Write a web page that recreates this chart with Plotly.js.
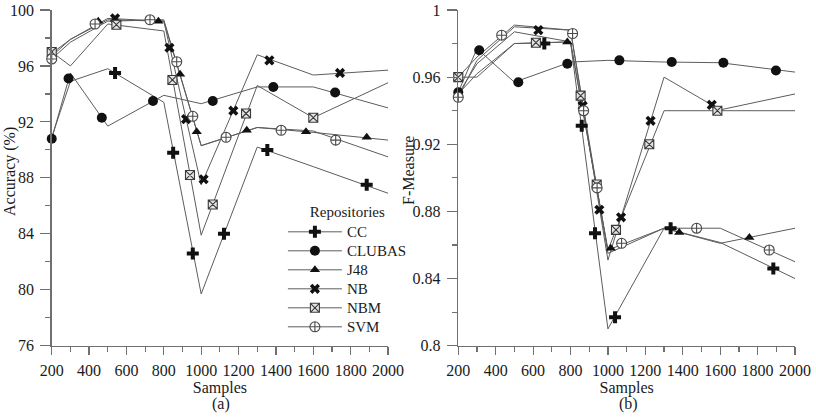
<!DOCTYPE html>
<html>
<head>
<meta charset="utf-8">
<script src="https://cdn.plot.ly/plotly-3.0.1.min.js"></script>
<style>
  html, body { margin: 0; padding: 0; background: #ffffff; }
  #chart { width: 816px; height: 420px; }
</style>
</head>
<body>
<div id="chart"></div>
<script>
// Sample sizes where each curve has a vertex
const sampleSizes = [200, 300, 500, 800, 1000, 1300, 1600, 2000];
const repositories = ['CC', 'CLUBAS', 'J48', 'NB', 'NBM', 'SVM'];

// (a) Accuracy (%) per repository
const accCC     = [90.9, 94.9, 95.8, 93.4, 79.7, 90.2, 88.8, 86.9];
const accCLUBAS = [90.8, 95.5, 91.7, 93.9, 93.3, 94.5, 94.5, 93.0];
const accJ48    = [96.7, 97.9, 99.3, 99.2, 90.3, 91.6, 91.25, 90.7];
const accNB     = [96.9, 97.9, 99.4, 99.2, 87.5, 96.8, 95.35, 95.7];
const accNBM    = [97.0, 96.0, 99.0, 98.5, 83.9, 94.6, 92.3, 94.8];
const accSVM    = [96.5, 97.7, 99.2, 99.3, 90.3, 91.6, 91.35, 89.5];

// (a) symbol positions along each accuracy curve
const accCCMarkX     = [539, 850, 955, 1122, 1354, 1886];
const accCCMarkY     = [95.5, 89.8, 82.6, 84.0, 90.0, 87.5];
const accCLUBASMarkX = [200, 290, 468, 742, 1062, 1386, 1717];
const accCLUBASMarkY = [90.8, 95.1, 92.3, 93.5, 93.5, 94.5, 94.1];
const accJ48MarkX    = [449, 771, 887, 976, 1244, 1561, 1886];
const accJ48MarkY    = [99.2, 99.2, 95.4, 91.3, 91.4, 91.3, 90.9];
const accNBMarkX     = [200, 539, 830, 919, 1013, 1172, 1365, 1743];
const accNBMarkY     = [96.9, 99.4, 97.3, 92.2, 87.9, 92.8, 96.4, 95.5];
const accNBMMarkX    = [200, 546, 846, 940, 1062, 1240, 1600];
const accNBMMarkY    = [97.0, 98.95, 95.0, 88.2, 86.1, 92.6, 92.3];
const accSVMMarkX    = [200, 432, 726, 869, 955, 1133, 1428, 1720];
const accSVMMarkY    = [96.5, 99.0, 99.3, 96.3, 92.4, 90.9, 91.4, 90.7];

// (b) F-Measure per repository
const fmCC     = [0.950, 0.962, 0.980, 0.981, 0.810, 0.870, 0.8615, 0.840];
const fmCLUBAS = [0.951, 0.977, 0.957, 0.969, 0.970, 0.969, 0.9686, 0.963];
const fmJ48    = [0.950, 0.968, 0.987, 0.981, 0.857, 0.870, 0.861, 0.870];
const fmNB     = [0.960, 0.972, 0.991, 0.988, 0.851, 0.960, 0.9405, 0.950];
const fmNBM    = [0.960, 0.960, 0.980, 0.981, 0.857, 0.940, 0.940, 0.940];
const fmSVM    = [0.948, 0.970, 0.990, 0.988, 0.855, 0.870, 0.870, 0.850];

// (b) symbol positions along each F-Measure curve
const fmCCMarkX     = [660, 860, 931, 1038, 1335, 1884];
const fmCCMarkY     = [0.980, 0.931, 0.867, 0.817, 0.870, 0.846];
const fmCLUBASMarkX = [200, 312, 521, 783, 1061, 1341, 1617, 1898];
const fmCLUBASMarkY = [0.951, 0.976, 0.957, 0.968, 0.970, 0.969, 0.9686, 0.964];
const fmJ48MarkX    = [432, 783, 938, 1015, 1381, 1756];
const fmJ48MarkY    = [0.985, 0.981, 0.896, 0.858, 0.8675, 0.8645];
const fmNBMarkX     = [200, 628, 865, 954, 1070, 1228, 1555];
const fmNBMarkY     = [0.960, 0.988, 0.943, 0.881, 0.8765, 0.934, 0.9435];
const fmNBMMarkX    = [200, 615, 854, 940, 1043, 1221, 1585];
const fmNBMMarkY    = [0.960, 0.9805, 0.949, 0.896, 0.869, 0.920, 0.940];
const fmSVMMarkX    = [200, 432, 811, 870, 942, 1073, 1474, 1862];
const fmSVMMarkY    = [0.948, 0.985, 0.986, 0.940, 0.894, 0.861, 0.870, 0.857];

const accLines = [accCC, accCLUBAS, accJ48, accNB, accNBM, accSVM];
const accMarks = [
  [accCCMarkX, accCCMarkY], [accCLUBASMarkX, accCLUBASMarkY], [accJ48MarkX, accJ48MarkY],
  [accNBMarkX, accNBMarkY], [accNBMMarkX, accNBMMarkY], [accSVMMarkX, accSVMMarkY]
];
const fmLines = [fmCC, fmCLUBAS, fmJ48, fmNB, fmNBM, fmSVM];
const fmMarks = [
  [fmCCMarkX, fmCCMarkY], [fmCLUBASMarkX, fmCLUBASMarkY], [fmJ48MarkX, fmJ48MarkY],
  [fmNBMarkX, fmNBMarkY], [fmNBMMarkX, fmNBMMarkY], [fmSVMMarkX, fmSVMMarkY]
];

const serif = 'Liberation Serif, DejaVu Serif, serif';
const lineColor = '#5c5c5c';
const axisColor = '#707070';

// Symbol style for each repository
const markerStyles = {
  CC:     { symbol: 'cross',        size: 10, color: '#111111', line: { width: 0 } },
  CLUBAS: { symbol: 'circle',       size: 10, color: '#111111', line: { width: 0 } },
  J48:    { symbol: 'triangle-up',  size: 9,  color: '#111111', line: { width: 0 } },
  NB:     { symbol: 'x',            size: 9,  color: '#111111', line: { width: 0 } },
  NBM:    { symbol: 'square-x',     size: 9,  color: '#e4e4e4', line: { width: 1.1, color: '#3a3a3a' } },
  SVM:    { symbol: 'circle-cross', size: 10, color: '#ffffff', line: { width: 1.1, color: '#4a4a4a' } }
};

const traces = [];

function addPanel(lines, marks, xa, ya) {
  repositories.forEach((name, i) => {
    traces.push({
      type: 'scatter', mode: 'lines', name: name,
      x: sampleSizes, y: lines[i], xaxis: xa, yaxis: ya,
      line: { color: lineColor, width: 1 },
      showlegend: false, hoverinfo: 'skip'
    });
  });
  repositories.forEach((name, i) => {
    traces.push({
      type: 'scatter', mode: 'markers', name: name,
      x: marks[i][0], y: marks[i][1], xaxis: xa, yaxis: ya,
      marker: markerStyles[name], cliponaxis: false,
      showlegend: false
    });
  });
}

addPanel(accLines, accMarks, 'x', 'y');
addPanel(fmLines, fmMarks, 'x2', 'y2');

// Legend keys (line with symbol) for the repositories
repositories.forEach(name => {
  traces.push({
    type: 'scatter', mode: 'lines+markers',
    name: '<span style="font-size:15px">' + name + '</span>',
    x: [null], y: [null], xaxis: 'x', yaxis: 'y',
    line: { color: lineColor, width: 1 },
    marker: markerStyles[name], showlegend: true
  });
});

const tickFont = { family: serif, size: 16, color: '#1a1a1a' };
const titleFont = { family: serif, size: 16, color: '#1a1a1a' };

function xAxis(domain, anchor) {
  return {
    domain: domain, anchor: anchor, range: [200, 2000],
    tickmode: 'linear', tick0: 200, dtick: 200,
    ticks: 'outside', ticklen: 8, tickwidth: 1.2, tickcolor: axisColor,
    minor: { ticks: 'outside', ticklen: 5, tickwidth: 1.2, tickcolor: axisColor, dtick: 100, tick0: 200 },
    showline: true, linecolor: axisColor, linewidth: 1.5,
    showgrid: false, zeroline: false, automargin: false,
    tickfont: tickFont, ticklabelstandoff: 2,
    title: { text: 'Samples', font: titleFont, standoff: 0 }
  };
}

function yAxis(domain, anchor, range, dtick, minorDtick) {
  return {
    domain: domain, anchor: anchor, range: range,
    tickmode: 'linear', tick0: range[0], dtick: dtick,
    ticks: 'outside', ticklen: 10, tickwidth: 1.2, tickcolor: axisColor,
    minor: { ticks: 'outside', ticklen: 5, tickwidth: 1.2, tickcolor: axisColor, dtick: minorDtick, tick0: range[0] },
    showline: true, linecolor: axisColor, linewidth: 1.5,
    showgrid: false, zeroline: false, automargin: false,
    tickfont: tickFont, ticklabelstandoff: 3
  };
}

const yDomain = [0.1769, 0.9762];

const layout = {
  width: 816, height: 420,
  margin: { l: 0, r: 0, t: 0, b: 0 },
  paper_bgcolor: '#ffffff', plot_bgcolor: '#ffffff',
  font: { family: serif, color: '#1a1a1a' },
  xaxis: xAxis([0.0634, 0.4755], 'y'),
  yaxis: yAxis(yDomain, 'x', [76, 100], 4, 2),
  xaxis2: xAxis([0.5616, 0.9743], 'y2'),
  yaxis2: yAxis(yDomain, 'x2', [0.8, 1], 0.04, 0.02),
  showlegend: true,
  legend: {
    x: 0.3467, y: 0.529, xanchor: 'left', yanchor: 'top',
    bgcolor: 'rgba(0,0,0,0)', borderwidth: 0,
    font: { family: serif, size: 12, color: '#1a1a1a' },
    itemwidth: 54,
    title: { text: 'Repositories', side: 'top center', font: { family: serif, size: 15, color: '#1a1a1a' } },
    tracegroupgap: 0, itemclick: false, itemdoubleclick: false
  },
  annotations: [
    { text: 'Accuracy (%)', textangle: -90, xref: 'paper', yref: 'paper',
      x: 10 / 816, y: (420 - 172) / 420, xanchor: 'center', yanchor: 'middle',
      showarrow: false, font: titleFont },
    { text: 'F-Measure', textangle: -90, xref: 'paper', yref: 'paper',
      x: 408.5 / 816, y: (420 - 170.5) / 420, xanchor: 'center', yanchor: 'middle',
      showarrow: false, font: titleFont },
    { text: '(a)', xref: 'paper', yref: 'paper', x: 221.5 / 816, y: (420 - 404) / 420,
      xanchor: 'center', yanchor: 'middle', showarrow: false, font: titleFont },
    { text: '(b)', xref: 'paper', yref: 'paper', x: 628.5 / 816, y: (420 - 404) / 420,
      xanchor: 'center', yanchor: 'middle', showarrow: false, font: titleFont }
  ]
};

Plotly.newPlot('chart', traces, layout, { displayModeBar: false, staticPlot: true });
</script>
</body>
</html>
